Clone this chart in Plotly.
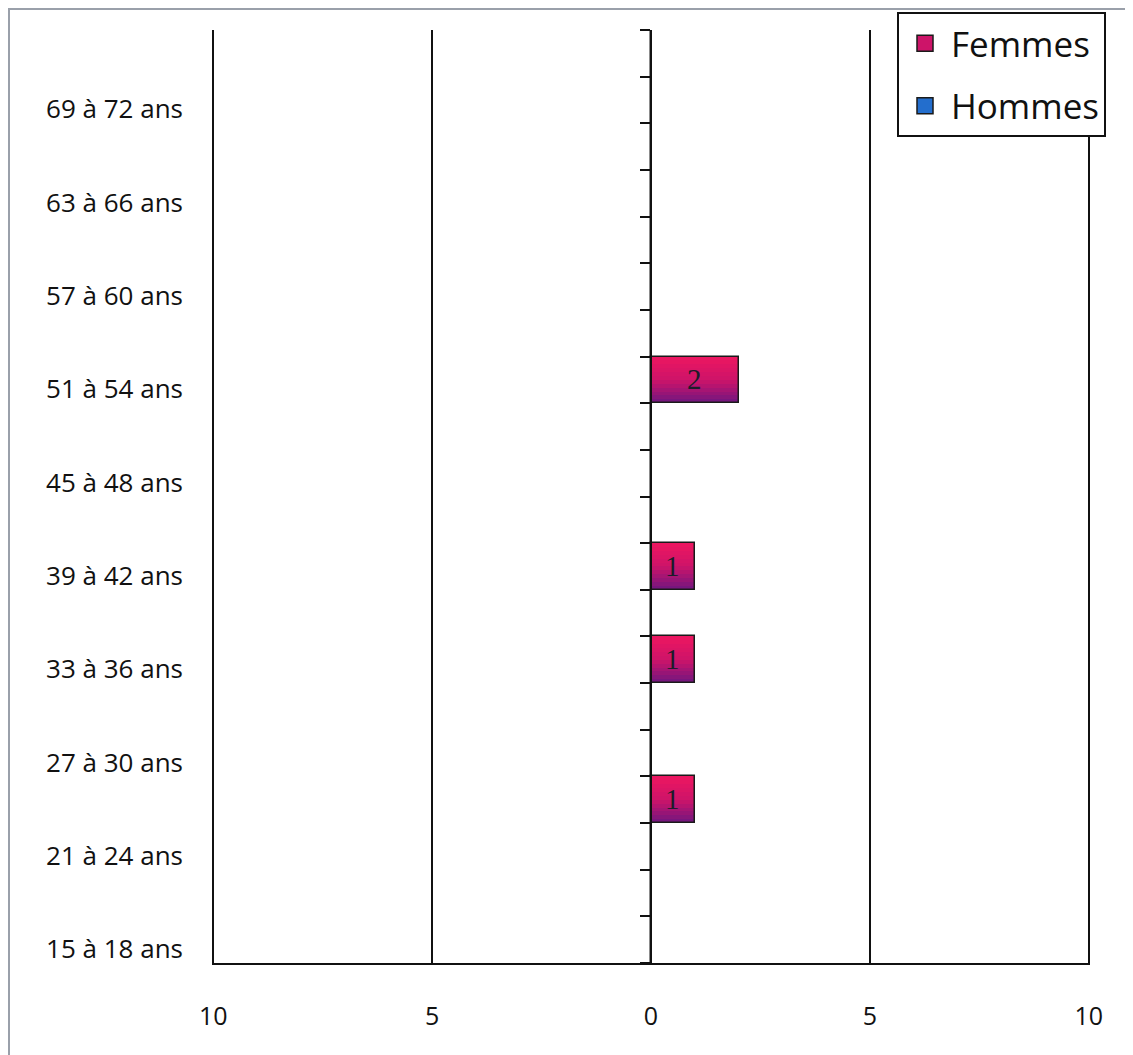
import plotly.graph_objects as go

categories = [
    "15 à 18 ans", "18 à 21 ans", "21 à 24 ans", "24 à 27 ans", "27 à 30 ans",
    "30 à 33 ans", "33 à 36 ans", "36 à 39 ans", "39 à 42 ans", "42 à 45 ans",
    "45 à 48 ans", "48 à 51 ans", "51 à 54 ans", "54 à 57 ans", "57 à 60 ans",
    "60 à 63 ans", "63 à 66 ans", "66 à 69 ans", "69 à 72 ans", "72 à 75 ans",
]
femmes = [0, 0, 0, 1, 0, 0, 1, 0, 1, 0, 0, 0, 2, 0, 0, 0, 0, 0, 0, 0]
hommes = [0, 0, 0, 0, 0, 0, 0, 0, 0, 0, 0, 0, 0, 0, 0, 0, 0, 0, 0, 0]
x_tickvals = [-10, -5, 0, 5, 10]
x_ticktext = ["10", "5", "0", "5", "10"]

n = len(categories)
ypos = list(range(n))

W, H = 1133, 1055
ML, MR, MT, MB = 204, 51, 22, 100
PW, PH = W - ML - MR, H - MT - MB

fig = go.Figure()

# gradient strips for Femmes bars (bottom purple -> top pink)
bottom_rgb = (112, 22, 128)
mid_rgb = (205, 20, 105)
top_rgb = (238, 22, 96)
NS = 12
def lerp(a, b, t):
    return tuple(int(round(a[i] + (b[i] - a[i]) * t)) for i in range(3))
for k in range(NS):
    t = (k + 0.5) / NS
    if t < 0.5:
        c = lerp(bottom_rgb, mid_rgb, t / 0.5)
    else:
        c = lerp(mid_rgb, top_rgb, (t - 0.5) / 0.5)
    fig.add_trace(go.Bar(
        y=ypos, x=femmes, orientation="h",
        width=1.0 / NS, offset=-0.5 + k / NS,
        marker=dict(color="rgb(%d,%d,%d)" % c, line=dict(width=0)),
        showlegend=False, hoverinfo="skip",
    ))

# outline + labels for Femmes
fig.add_trace(go.Bar(
    y=ypos, x=femmes, orientation="h", name="Femmes",
    width=1.0, offset=-0.5,
    marker=dict(color="rgba(0,0,0,0)", line=dict(color="#1a1a1a", width=1.5)),
    text=[str(v) if v else "" for v in femmes],
    textposition="inside", insidetextanchor="middle",
    textfont=dict(family="Liberation Serif", size=29, color="#1c1c2a"),
    showlegend=False,
))
# Hommes bars (drawn on the centre axis, all zero)
fig.add_trace(go.Bar(
    y=ypos, x=[-v for v in hommes], orientation="h", name="Hommes",
    width=1.0, offset=-0.5, yaxis="y2",
    marker=dict(color="rgb(40,120,210)", line=dict(width=0)),
    showlegend=False,
))
# legend entries
fig.add_trace(go.Scatter(
    x=[None], y=[None], mode="markers", name="Femmes", legendgroup="f",
    marker=dict(symbol="square", size=16, color="rgb(205,20,105)",
                line=dict(color="#1a1a1a", width=1.5)),
))
fig.add_trace(go.Scatter(
    x=[None], y=[None], mode="markers", name="Hommes", legendgroup="h",
    marker=dict(symbol="square", size=16, color="rgb(35,110,205)",
                line=dict(color="#1a1a1a", width=1.5)),
))

font_main = "Open Sans"
fig.update_layout(
    width=W, height=H,
    margin=dict(l=ML, r=MR, t=MT, b=MB, autoexpand=False),
    paper_bgcolor="white", plot_bgcolor="white",
    barmode="overlay", bargap=0,
    showlegend=True,
    legend=dict(
        x=(897 - 8 - ML) / PW, y=1 + (MT - 4) / PH, xanchor="left", yanchor="top",
        bgcolor="white", bordercolor="#111111", borderwidth=2,
        font=dict(family=font_main, size=35, color="#111111"),
        traceorder="grouped", tracegroupgap=14, itemwidth=42,
        itemsizing="trace",
    ),
    xaxis=dict(
        range=[-10.03, 10.03], tickvals=x_tickvals, ticktext=x_ticktext,
        showgrid=True, gridcolor="#111111", gridwidth=2,
        zeroline=False, showline=True, linecolor="#111111", linewidth=2,
        ticks="", ticklabelstandoff=30,
        tickfont=dict(family=font_main, size=25, color="#111111"),
    ),
    yaxis=dict(
        range=[-0.5, n - 0.5],
        tickvals=[i - 0.2 for i in ypos[::2]],
        ticktext=categories[::2],
        showgrid=False, zeroline=False, showline=False, ticks="",
        ticklabelstandoff=28,
        tickfont=dict(family=font_main, size=26, color="#111111"),
    ),
    yaxis2=dict(
        overlaying="y", anchor="free", position=0.5, side="left",
        range=[-0.5, n - 0.5],
        tickvals=[i - 0.5 for i in range(n + 1)],
        showticklabels=False, showgrid=False, zeroline=False,
        showline=True, linecolor="#111111", linewidth=2,
        ticks="outside", ticklen=10, tickwidth=2, tickcolor="#111111",
    ),
    shapes=[
        dict(type="rect", xref="paper", yref="paper",
             x0=1 / PW - ML / PW, x1=1.2,
             y0=-0.3, y1=(PH + MT - 1) / PH,
             line=dict(color="#9aa0aa", width=2), layer="below"),
    ],
)

fig.write_html("out.html")
